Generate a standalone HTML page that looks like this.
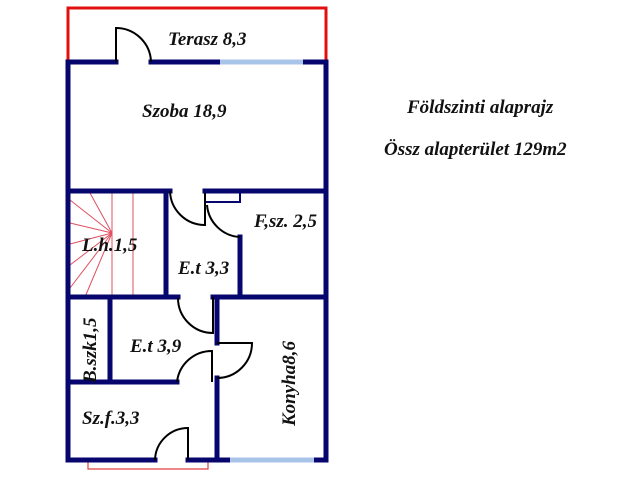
<!DOCTYPE html>
<html><head><meta charset="utf-8"><style>
html,body{margin:0;padding:0;background:#fff;width:640px;height:480px;overflow:hidden}
text{font-family:"Liberation Serif",serif;font-weight:bold;font-style:italic;font-size:19px;fill:#111}
</style></head><body>
<svg width="640" height="480" viewBox="0 0 640 480">
<polyline points="68,62 68,8 326,8 326,62" fill="none" stroke="#e01010" stroke-width="3"/>
<polyline points="88,462 88,469 208,469 208,462" fill="none" stroke="#e04040" stroke-width="1.2"/>
<g stroke="#e05060" stroke-width="1">
<line x1="112" y1="193" x2="112" y2="297"/>
<line x1="133" y1="193" x2="133" y2="297"/>
<line x1="70" y1="200" x2="112" y2="233"/>
<line x1="90" y1="193" x2="112" y2="233"/>
<line x1="70" y1="223" x2="112" y2="233"/>
<line x1="70" y1="244" x2="112" y2="233"/>
<line x1="70" y1="265" x2="112" y2="233"/>
<line x1="85" y1="297" x2="112" y2="233"/>
<line x1="70" y1="288" x2="112" y2="233"/>
</g>
<g stroke="#06066e" stroke-width="5" fill="none" stroke-linecap="square">
<line x1="68" y1="62" x2="68" y2="460"/>
<line x1="326" y1="62" x2="326" y2="460"/>
<line x1="68" y1="62" x2="116" y2="62"/>
<line x1="151" y1="62" x2="218" y2="62"/>
<line x1="305" y1="62" x2="326" y2="62"/>
<line x1="68" y1="460" x2="155" y2="460"/>
<line x1="188" y1="460" x2="228" y2="460"/>
<line x1="316" y1="460" x2="326" y2="460"/>
<line x1="68" y1="191" x2="170" y2="191"/>
<line x1="205" y1="191" x2="326" y2="191"/>
<line x1="166" y1="191" x2="166" y2="297"/>
<line x1="240" y1="237" x2="240" y2="297"/>
<line x1="68" y1="297" x2="178" y2="297"/>
<line x1="213" y1="297" x2="326" y2="297"/>
<line x1="110" y1="297" x2="110" y2="382"/>
<line x1="68" y1="382" x2="177" y2="382"/>
<line x1="217" y1="297" x2="217" y2="343"/>
<line x1="217" y1="378" x2="217" y2="460"/>
</g>
<line x1="220" y1="62" x2="303" y2="62" stroke="#a8c4e8" stroke-width="5"/>
<line x1="230" y1="460" x2="314" y2="460" stroke="#a8c4e8" stroke-width="5"/>
<g stroke="#000" stroke-width="2" fill="none">
<path d="M116,62 L116,28 A35,35 0 0 1 151,62"/>
<rect x="205" y="192" width="35" height="10" stroke="#06066e"/>
<path d="M205,193 L205,225 A35,35 0 0 1 170,191"/>
<path d="M207,205 A35,35 0 0 0 240,237"/>
<path d="M213,297 L213,333 A35,35 0 0 1 178,298"/>
<path d="M212,382 L212,351 A35,35 0 0 0 177,382"/>
<path d="M217,343 L252,343 A35,35 0 0 1 217,378"/>
<path d="M188,460 L188,428 A33,33 0 0 0 155,460"/>
</g>
<text x="168" y="45">Terasz 8,3</text>
<text x="142" y="117">Szoba 18,9</text>
<text x="407" y="113">Földszinti alaprajz</text>
<text x="384" y="155">Össz alapterület 129m2</text>
<text x="254" y="227">F,sz. 2,5</text>
<text x="82" y="251">L.h.1,5</text>
<text x="178" y="274">E.t 3,3</text>
<text x="130" y="352">E.t 3,9</text>
<text x="82" y="424">Sz.f.3,3</text>
<text transform="translate(96,383) rotate(-90)">B.szk1,5</text>
<text transform="translate(295,426) rotate(-90)">Konyha8,6</text>
</svg>
</body></html>
